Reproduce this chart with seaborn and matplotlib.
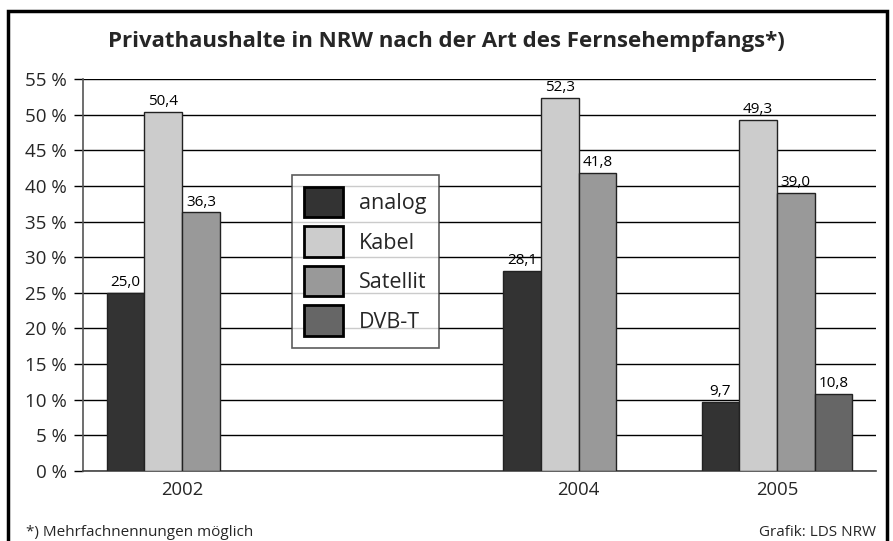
import matplotlib
matplotlib.use("Agg")
import matplotlib.pyplot as plt
import matplotlib.patches as mpatches
import seaborn as sns
import pandas as pd
import numpy as np

years = ["2002", "2003", "2004", "2005"]
year_labels = ["2002", "", "2004", "2005"]
types = ["analog", "Kabel", "Satellit", "DVB-T"]
analog = [25.0, np.nan, 28.1, 9.7]
kabel = [50.4, np.nan, 52.3, 49.3]
satellit = [36.3, np.nan, 41.8, 39.0]
dvbt = [np.nan, np.nan, np.nan, 10.8]
colors = ["#333333", "#cccccc", "#999999", "#666666"]
yticks = list(range(0, 60, 5))

rows = []
for t, vals in zip(types, [analog, kabel, satellit, dvbt]):
    for y, v in zip(years, vals):
        rows.append({"Jahr": y, "Art": t, "Wert": v})
df = pd.DataFrame(rows)

sns.set_theme(style="white")
FONT = ["Open Sans", "DejaVu Sans"]
plt.rcParams["font.family"] = FONT

fig = plt.figure(figsize=(8.93, 5.41), dpi=100)
ax = fig.add_axes([83 / 893, 1 - 471 / 541, (876 - 83) / 893, (471 - 79) / 541])

sns.barplot(data=df, x="Jahr", y="Wert", hue="Art", order=years, hue_order=types,
            palette=colors, width=0.76, gap=0, errorbar=None, ax=ax,
            edgecolor="#222222", linewidth=1.0, saturation=1, legend=False, zorder=3)

for c in ax.containers:
    labels = [f"{h:.1f}".replace(".", ",") for h in c.datavalues]
    ax.bar_label(c, labels=labels, padding=2, fontsize=11, color="black")

ax.set_ylim(0, 55)
ax.set_yticks(yticks)
ax.set_yticklabels([f"{v} %" for v in yticks], fontsize=13.5)
ax.set_xticks(range(len(years)))
ax.set_xticklabels(year_labels, fontsize=13.3)
ax.set_xlim(-0.5, 3.5)
ax.set_xlabel("")
ax.set_ylabel("")
ax.yaxis.grid(True, color="black", linewidth=1.0, zorder=0)
ax.set_axisbelow(True)
for s in ["top", "right"]:
    ax.spines[s].set_visible(False)
ax.spines["left"].set_color("#555555")
ax.spines["left"].set_linewidth(1.2)
ax.spines["bottom"].set_color("#444444")
ax.spines["bottom"].set_linewidth(1.2)
ax.tick_params(axis="y", length=6.5, width=1, color="black", left=True, pad=5)
ax.tick_params(axis="x", length=0, pad=7)

handles = [mpatches.Patch(facecolor=col, edgecolor="black", linewidth=2, label=t)
           for col, t in zip(colors, types)]
leg = ax.legend(handles=handles, loc="upper left", bbox_to_anchor=(0.2636, 0.755),
                borderaxespad=0, fontsize=15.5, frameon=True, fancybox=False,
                handlelength=1.82, handleheight=1.8, labelspacing=0.42,
                handletextpad=0.75, borderpad=0.55)
leg.get_frame().set_edgecolor("#333333")
leg.get_frame().set_linewidth(1.2)
leg.get_frame().set_facecolor("white")
leg.set_zorder(5)

fig.text(0.5, 1 - 42 / 541, "Privathaushalte in NRW nach der Art des Fernsehempfangs*)",
         ha="center", va="center", fontsize=16, fontweight="bold")
fig.text(26 / 893, 1 - 533 / 541, "*) Mehrfachnennungen möglich",
         ha="left", va="center", fontsize=11)
fig.text(876 / 893, 1 - 533 / 541, "Grafik: LDS NRW",
         ha="right", va="center", fontsize=11)

frame = mpatches.Rectangle((7.5 / 893, -0.05), (887 - 7.5) / 893, 1 - 11 / 541 + 0.05,
                           transform=fig.transFigure, fill=False, edgecolor="black",
                           linewidth=2.5, clip_on=False)
fig.patches.append(frame)

fig.savefig("out.png", dpi=100)
